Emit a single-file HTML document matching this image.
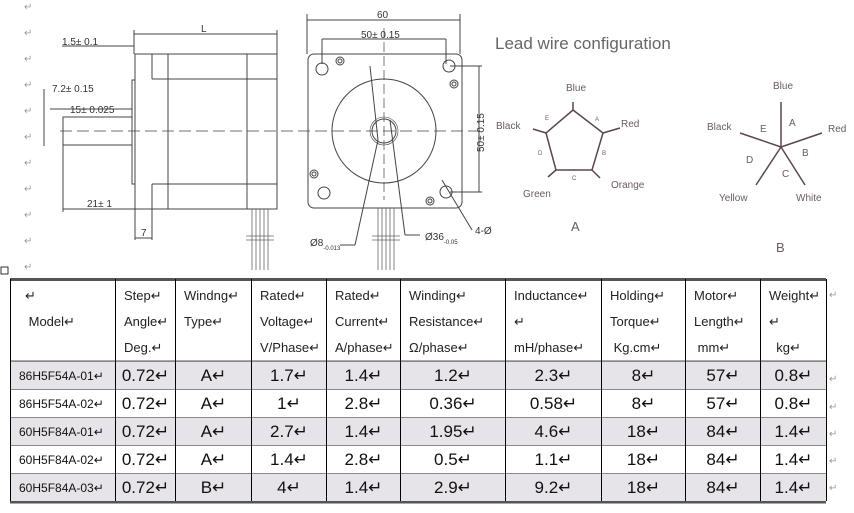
<!DOCTYPE html>
<html><head><meta charset="utf-8"><style>
body{margin:0;width:854px;height:513px;background:#fff;overflow:hidden;position:relative;font-family:"Liberation Sans",sans-serif}
svg{position:absolute;left:0;top:0}
table{position:absolute;left:10px;top:279px;border-collapse:collapse;font-family:"Liberation Sans",sans-serif}
td{border-left:1px solid #000;border-right:1px solid #000;padding:0;vertical-align:middle}
.h td{height:80px;font-size:13px;line-height:26px;color:#222;vertical-align:top;padding-left:8px;padding-top:4px;box-sizing:border-box}
.r td{height:27px;border-top:1px solid #888;text-align:center;font-size:17px;color:#111}
.r td.m{font-size:12px;text-align:left;padding-left:8px}
.g td{background:#e6e4e8}
</style></head><body>
<svg width="854" height="513" viewBox="0 0 854 513">
<g fill="#999" font-size="10">
<text x="24" y="10">↵</text><text x="24" y="36">↵</text><text x="24" y="62">↵</text><text x="24" y="88">↵</text><text x="24" y="114">↵</text><text x="24" y="140">↵</text><text x="24" y="166">↵</text><text x="24" y="192">↵</text><text x="24" y="218">↵</text><text x="24" y="244">↵</text><text x="24" y="270">↵</text>
<text x="829" y="298">↵</text><text x="829" y="382">↵</text><text x="829" y="410">↵</text><text x="829" y="437">↵</text><text x="829" y="464">↵</text><text x="829" y="491">↵</text>
</g>
<rect x="1" y="267" width="7" height="7" fill="none" stroke="#000" stroke-width="0.8"/>
<g stroke="#444" fill="none" stroke-width="1">
<rect x="135" y="54" width="142" height="155"/>
<line x1="152" y1="54" x2="152" y2="79"/><line x1="152" y1="79" x2="277" y2="79"/>
<line x1="152" y1="184" x2="152" y2="209"/><line x1="152" y1="184" x2="277" y2="184"/>
<line x1="168" y1="54" x2="168" y2="209"/><line x1="247" y1="54" x2="247" y2="209"/>
<rect x="132" y="80" width="3" height="104"/>
<rect x="63" y="117" width="69" height="28"/>
<line x1="60" y1="131" x2="480" y2="131" stroke-dasharray="12,5" stroke-width="0.7"/>
<line x1="134" y1="34" x2="277" y2="34"/><line x1="134" y1="30" x2="134" y2="54"/><line x1="277" y1="30" x2="277" y2="54"/>
<line x1="62" y1="46" x2="134" y2="46"/>
<line x1="44" y1="89" x2="44" y2="146"/>
<line x1="50" y1="109" x2="132" y2="109"/>
<line x1="63" y1="145" x2="63" y2="212"/><line x1="63" y1="209" x2="135" y2="209"/>
<line x1="135" y1="209" x2="135" y2="240"/><line x1="152" y1="209" x2="152" y2="240"/><line x1="135" y1="238" x2="152" y2="238"/>
<rect x="308" y="54" width="154" height="154" rx="6"/>
<circle cx="384" cy="131" r="52"/><circle cx="384" cy="131" r="12"/><circle cx="384" cy="131" r="14" stroke-width="0.6"/>
<circle cx="322" cy="69" r="6"/><circle cx="449" cy="66" r="6"/><circle cx="324" cy="193" r="6"/><circle cx="446" cy="192" r="6"/>
<circle cx="340" cy="61" r="4"/><circle cx="340" cy="61" r="2"/>
<circle cx="454" cy="84" r="4"/><circle cx="454" cy="84" r="2"/>
<circle cx="314" cy="174" r="4"/><circle cx="314" cy="174" r="2"/>
<circle cx="430" cy="201" r="4"/><circle cx="430" cy="201" r="2"/>
<line x1="384" y1="28" x2="384" y2="200" stroke-dasharray="10,4" stroke-width="0.7"/>
<line x1="307" y1="20" x2="460" y2="20"/><line x1="307" y1="14" x2="307" y2="54"/><line x1="460" y1="14" x2="460" y2="54"/>
<line x1="322" y1="39" x2="446" y2="39"/><line x1="322" y1="39" x2="322" y2="64"/><line x1="446" y1="39" x2="446" y2="64"/>
<line x1="479" y1="66" x2="479" y2="192"/><line x1="450" y1="66" x2="482" y2="66"/><line x1="450" y1="192" x2="482" y2="192"/>
<line x1="370" y1="66" x2="378" y2="140"/><line x1="378" y1="140" x2="355" y2="245"/><line x1="340" y1="245" x2="355" y2="245"/>
<line x1="390" y1="120" x2="405" y2="235"/><line x1="405" y1="235" x2="420" y2="235"/>
<line x1="442" y1="180" x2="472" y2="230"/>
<g stroke="#666" stroke-width="0.8">
<line x1="252" y1="209" x2="252" y2="270"/><line x1="256" y1="209" x2="256" y2="270"/><line x1="260" y1="209" x2="260" y2="270"/><line x1="264" y1="209" x2="264" y2="270"/><line x1="268" y1="209" x2="268" y2="270"/>
<line x1="378" y1="208" x2="378" y2="270"/><line x1="382" y1="208" x2="382" y2="270"/><line x1="386" y1="208" x2="386" y2="270"/><line x1="390" y1="208" x2="390" y2="270"/><line x1="394" y1="208" x2="394" y2="270"/>
<line x1="246" y1="236" x2="274" y2="236"/><line x1="246" y1="240" x2="274" y2="240"/>
<line x1="372" y1="236" x2="400" y2="236"/><line x1="372" y1="240" x2="400" y2="240"/>
</g>
</g>
<g fill="#333" font-size="10">
<text x="201" y="32">L</text>
<text x="62" y="45">1.5± 0.1</text>
<text x="52" y="92">7.2± 0.15</text>
<text x="70" y="113">15± 0.025</text>
<text x="87" y="207">21± 1</text>
<text x="141" y="236">7</text>
<text x="377" y="18">60</text>
<text x="361" y="38">50± 0.15</text>
<text transform="translate(484,152) rotate(-90)">50± 0.15</text>
<text x="310" y="246">Ø8<tspan font-size="6" dy="4">-0.013</tspan></text>
<text x="425" y="240">Ø36<tspan font-size="6" dy="4">-0.05</tspan></text>
<text x="475" y="234">4-Ø</text>
</g>
<text x="495" y="49" font-size="17" fill="#666">Lead wire configuration</text>
<g stroke="#5a4650" stroke-width="1.5" fill="none">
<polygon points="573,110 603,133 592,170 556,170 546,133"/>
<line x1="573" y1="110" x2="573" y2="102"/><line x1="603" y1="133" x2="620" y2="128"/><line x1="592" y1="170" x2="600" y2="178"/><line x1="556" y1="170" x2="548" y2="177"/><line x1="546" y1="133" x2="533" y2="129"/>
<line x1="781" y1="147" x2="781" y2="102"/><line x1="781" y1="147" x2="822" y2="133"/><line x1="781" y1="147" x2="805" y2="185"/><line x1="781" y1="147" x2="756" y2="185"/><line x1="781" y1="147" x2="740" y2="133"/>
</g>
<g fill="#6a5a64" font-size="10">
<text x="566" y="91">Blue</text><text x="496" y="129">Black</text><text x="621" y="127">Red</text><text x="611" y="188">Orange</text><text x="523" y="197">Green</text>
<text x="571" y="231" font-size="13">A</text>
<text x="773" y="89">Blue</text><text x="707" y="130">Black</text><text x="828" y="132">Red</text><text x="796" y="201">White</text><text x="719" y="201">Yellow</text>
<text x="776" y="252" font-size="13">B</text>
<text x="789" y="126">A</text><text x="760" y="132">E</text><text x="802" y="156">B</text><text x="746" y="163">D</text><text x="782" y="177">C</text>
<g font-size="6"><text x="595" y="121">A</text><text x="545" y="120">E</text><text x="602" y="155">B</text><text x="538" y="155">D</text><text x="572" y="180">C</text></g>
</g>
<line x1="10" y1="279.5" x2="826" y2="279.5" stroke="#555" stroke-width="3"/>
<line x1="10" y1="362" x2="826" y2="362" stroke="#555" stroke-width="3"/>
<line x1="10" y1="502" x2="826" y2="502" stroke="#555" stroke-width="3"/>
</svg>
<table>
<colgroup><col style="width:105px"><col style="width:60px"><col style="width:76px"><col style="width:75px"><col style="width:74px"><col style="width:105px"><col style="width:96px"><col style="width:84px"><col style="width:75px"><col style="width:66px"></colgroup>
<tr class="h"><td style="padding-left:14px">↵<br>&nbsp;Model↵</td><td>Step↵<br>Angle↵<br>Deg.↵</td><td>Windng↵<br>Type↵</td><td>Rated↵<br>Voltage↵<br>V/Phase↵</td><td>Rated↵<br>Current↵<br>A/phase↵</td><td>Winding↵<br>Resistance↵<br>Ω/phase↵</td><td>Inductance↵<br>↵<br>mH/phase↵</td><td>Holding↵<br>Torque↵<br>&nbsp;Kg.cm↵</td><td>Motor↵<br>Length↵<br>&nbsp;mm↵</td><td>Weight↵<br>↵<br>&nbsp;&nbsp;kg↵</td></tr>
<tr class="r g"><td class="m">86H5F54A-01↵</td><td>0.72↵</td><td>A↵</td><td>1.7↵</td><td>1.4↵</td><td>1.2↵</td><td>2.3↵</td><td>8↵</td><td>57↵</td><td>0.8↵</td></tr>
<tr class="r"><td class="m">86H5F54A-02↵</td><td>0.72↵</td><td>A↵</td><td>1↵</td><td>2.8↵</td><td>0.36↵</td><td>0.58↵</td><td>8↵</td><td>57↵</td><td>0.8↵</td></tr>
<tr class="r g"><td class="m">60H5F84A-01↵</td><td>0.72↵</td><td>A↵</td><td>2.7↵</td><td>1.4↵</td><td>1.95↵</td><td>4.6↵</td><td>18↵</td><td>84↵</td><td>1.4↵</td></tr>
<tr class="r"><td class="m">60H5F84A-02↵</td><td>0.72↵</td><td>A↵</td><td>1.4↵</td><td>2.8↵</td><td>0.5↵</td><td>1.1↵</td><td>18↵</td><td>84↵</td><td>1.4↵</td></tr>
<tr class="r g"><td class="m">60H5F84A-03↵</td><td>0.72↵</td><td>B↵</td><td>4↵</td><td>1.4↵</td><td>2.9↵</td><td>9.2↵</td><td>18↵</td><td>84↵</td><td>1.4↵</td></tr>
</table>
</body></html>
